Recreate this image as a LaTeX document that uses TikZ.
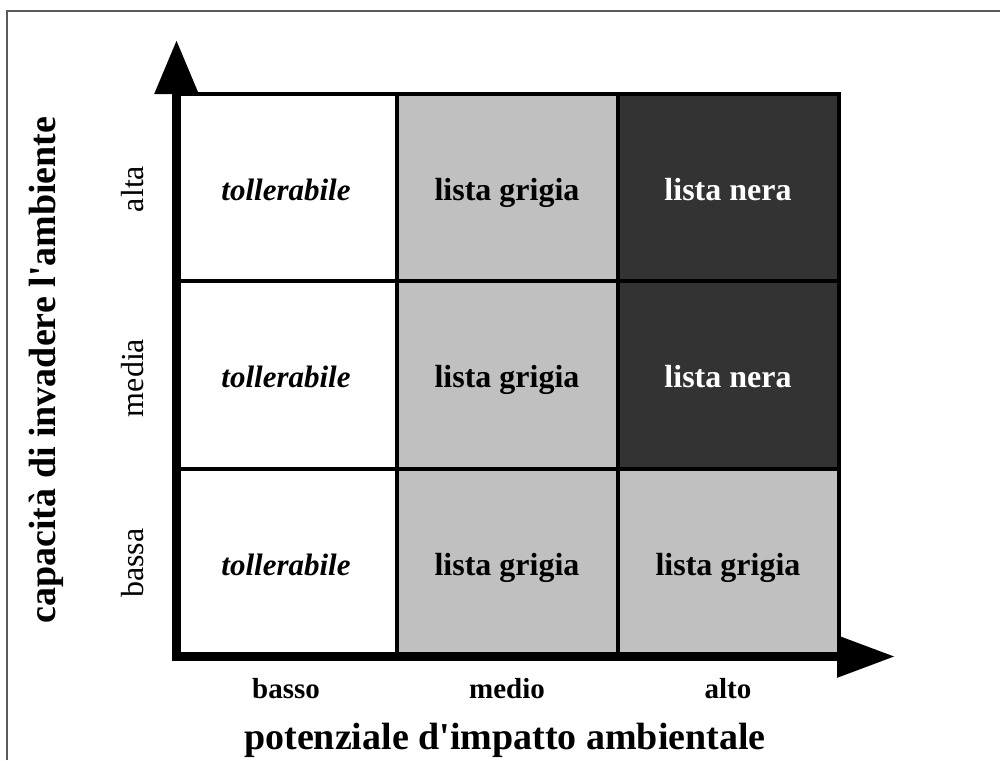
\documentclass[tikz,border=0pt]{standalone}
\usepackage{fontspec}
\setmainfont{Liberation Serif}
\usepackage{tikz}
\usetikzlibrary{arrows.meta}
\definecolor{grigio}{HTML}{C0C0C0}
\definecolor{nero}{HTML}{333333}
\definecolor{cornice}{HTML}{5A5A5A}
\newcommand{\fs}[1]{\fontsize{#1}{#1}\selectfont}
\tikzset{cella/.style={draw,line width=4pt,minimum width=221pt,minimum height=187.5pt,inner sep=0pt,text height=30pt,text depth=5pt,font=\fs{32}\bfseries},
  asse/.style={line width=9pt,{Triangle[length=54pt,width=42pt]}-{Triangle[length=58pt,width=40pt]}}}
\begin{document}
\begin{tikzpicture}[x=1pt,y=-1pt]
\useasboundingbox (0,0) rectangle (1000,760);
\draw[cornice,line width=2pt] (7,760) -- (7,11) -- (1000,11);
\node[cella,fill=white,font=\fs{31}\bfseries\itshape] (c11) at (286,187.5) {tollerabile};
\node[cella,fill=grigio] (c12) at (507,187.5) {lista grigia};
\node[cella,fill=nero,text=white] (c13) at (728,187.5) {lista nera};
\node[cella,fill=white,font=\fs{31}\bfseries\itshape] (c21) at (286,375) {tollerabile};
\node[cella,fill=grigio] (c22) at (507,375) {lista grigia};
\node[cella,fill=nero,text=white] (c23) at (728,375) {lista nera};
\node[cella,fill=white,font=\fs{31}\bfseries\itshape] (c31) at (286,562.5) {tollerabile};
\node[cella,fill=grigio] (c32) at (507,562.5) {lista grigia};
\node[cella,fill=grigio] (c33) at (728,562.5) {lista grigia};
\coordinate (O) at (176.5,656.5); \coordinate (ycima) at (176.5,40); \coordinate (xfine) at (895,656.5);
\draw[asse] (ycima) -- (O) -- (xfine);
\node[rotate=90,font=\fs{32}] (ralta) at (133,189) {alta};
\node[rotate=90,font=\fs{32}] (rmedia) at (133,378) {media};
\node[rotate=90,font=\fs{32}] (rbassa) at (133,563) {bassa};
\node[font=\fs{29}\bfseries] (kbasso) at (286,689) {basso};
\node[font=\fs{29}\bfseries] (kmedio) at (507,689) {medio};
\node[font=\fs{29}\bfseries] (kalto) at (728,689) {alto};
\node[font=\fs{38}\bfseries] (tx) at (505,740) {potenziale d\textquotesingle impatto ambientale};
\node[rotate=90,font=\fs{38}\bfseries] (ty) at (46,370) {capacità di invadere l\textquotesingle ambiente};
\end{tikzpicture}
\end{document}
